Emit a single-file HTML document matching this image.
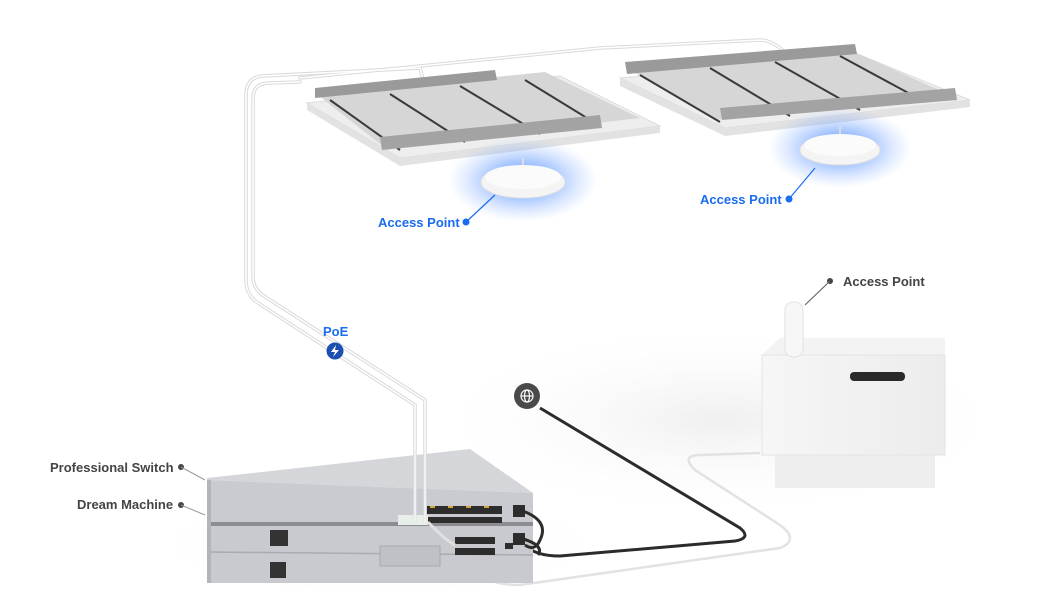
<!DOCTYPE html>
<html><head><meta charset="utf-8"><style>
html,body{margin:0;padding:0;background:#fff;width:1050px;height:609px;overflow:hidden}
svg{display:block}
text{font-family:"Liberation Sans",sans-serif;font-weight:bold;font-size:13px}
</style></head><body>
<svg width="1050" height="609" viewBox="0 0 1050 609">
<defs>
<radialGradient id="glow" cx="50%" cy="50%" r="50%">
<stop offset="0" stop-color="#3a7bff" stop-opacity="0.9"/>
<stop offset="0.5" stop-color="#5b95ff" stop-opacity="0.45"/>
<stop offset="1" stop-color="#8fb6ff" stop-opacity="0"/>
</radialGradient>
<radialGradient id="shadow" cx="50%" cy="50%" r="50%">
<stop offset="0" stop-color="#efefef"/>
<stop offset="1" stop-color="#fff" stop-opacity="0"/>
</radialGradient>
<linearGradient id="box" x1="0" x2="1"><stop offset="0" stop-color="#f6f6f6"/><stop offset="1" stop-color="#ececec"/></linearGradient>
</defs>
<ellipse cx="720" cy="420" rx="300" ry="100" fill="url(#shadow)"/>
<ellipse cx="380" cy="545" rx="240" ry="55" fill="url(#shadow)"/>

<!-- top white cables -->
<g id="wc" fill="none" stroke-linecap="round">
<path d="M415,520 L415,405 L258,303 Q246,295 246,280 L246,95 Q246,78 262,76 L420,68 L426,90"/>
<path d="M425,520 L425,400 L264,296 Q253,289 253,276 L253,98 Q253,84 268,83 L300,82"/>
<path d="M300,78 L600,48 L760,40 Q775,40 790,58 L830,100"/>
</g>
<use href="#wc" stroke="#d9d9d9" stroke-width="3.5"/>
<use href="#wc" stroke="#fff" stroke-width="1.5"/>

<!-- panel 1 -->
<polygon points="307,103 560,76 660,126 400,158" fill="#eeeeee" stroke="#dcdcdc"/>
<polygon points="307,103 307,110 400,166 660,133 660,126 400,158" fill="#e2e2e2"/>
<polygon points="318,95 545,72 640,118 385,148" fill="#d6d6d6"/>
<g stroke="#3a3a3a" stroke-width="2">
<line x1="330" y1="100" x2="400" y2="150"/><line x1="390" y1="94" x2="465" y2="142"/>
<line x1="460" y1="86" x2="540" y2="134"/><line x1="525" y1="80" x2="600" y2="126"/>
</g>
<polygon points="315,88 495,70 497,80 315,98" fill="#9a9a9a"/>
<polygon points="380,137 600,115 602,128 382,150" fill="#a3a3a3"/>
<!-- panel 2 -->
<polygon points="620,78 860,55 970,100 725,128" fill="#eeeeee" stroke="#dcdcdc"/>
<polygon points="620,78 620,86 725,136 970,107 970,100 725,128" fill="#e2e2e2"/>
<polygon points="630,70 850,50 950,95 715,120" fill="#d6d6d6"/>
<g stroke="#3a3a3a" stroke-width="2">
<line x1="640" y1="75" x2="720" y2="122"/><line x1="710" y1="68" x2="790" y2="116"/>
<line x1="775" y1="62" x2="860" y2="110"/><line x1="840" y1="56" x2="925" y2="102"/>
</g>
<polygon points="625,62 855,44 857,54 627,74" fill="#9a9a9a"/>
<polygon points="720,108 955,88 957,100 722,120" fill="#a3a3a3"/>

<!-- APs -->
<ellipse cx="523" cy="180" rx="75" ry="42" fill="url(#glow)"/>
<line x1="523" y1="158" x2="523" y2="168" stroke="#ddd" stroke-width="2"/>
<ellipse cx="523" cy="182" rx="42" ry="16" fill="#f4f4f4" stroke="#e0e0e0"/>
<ellipse cx="523" cy="177" rx="38" ry="12" fill="#fbfbfb"/>
<ellipse cx="840" cy="148" rx="72" ry="40" fill="url(#glow)"/>
<line x1="840" y1="126" x2="840" y2="136" stroke="#ddd" stroke-width="2"/>
<ellipse cx="840" cy="150" rx="40" ry="15" fill="#f4f4f4" stroke="#e0e0e0"/>
<ellipse cx="840" cy="145" rx="36" ry="11" fill="#fbfbfb"/>

<!-- labels -->
<g fill="#1a6cf0">
<text x="378" y="227">Access Point</text><circle cx="466" cy="222" r="3.5"/>
<text x="700" y="204">Access Point</text><circle cx="789" cy="199" r="3.5"/>
<text x="323" y="336" font-weight="normal">PoE</text>
</g>
<line x1="466" y1="222" x2="495" y2="195" stroke="#1a6cf0" stroke-width="1.2"/>
<line x1="789" y1="199" x2="815" y2="168" stroke="#1a6cf0" stroke-width="1.2"/>
<circle cx="335" cy="351" r="8.5" fill="#1b4fb0"/>
<path d="M336,345 L331,352 L335,352 L333,357 L339,350 L335,350 Z" fill="#fff"/>

<g fill="#444">
<text x="843" y="286">Access Point</text><circle cx="830" cy="281" r="3"/>
<text x="50" y="472">Professional Switch</text><circle cx="181" cy="467" r="3"/>
<text x="77" y="509">Dream Machine</text><circle cx="181" cy="505" r="3"/>
</g>
<line x1="830" y1="281" x2="805" y2="305" stroke="#666" stroke-width="1.2"/>
<line x1="181" y1="467" x2="205" y2="480" stroke="#999" stroke-width="1"/>
<line x1="181" y1="505" x2="205" y2="515" stroke="#999" stroke-width="1"/>

<!-- outdoor box -->
<rect x="775" y="450" width="160" height="38" fill="#eeeeee"/>
<polygon points="762,355 780,338 945,338 945,355" fill="#f3f3f3"/>
<rect x="762" y="355" width="183" height="100" fill="url(#box)" stroke="#e4e4e4"/>
<rect x="850" y="372" width="55" height="9" rx="4" fill="#2a2a2a"/>
<rect x="785" y="302" width="18" height="55" rx="8" fill="#f7f7f7" stroke="#e2e2e2"/>

<!-- lower cables -->
<path d="M455,545 Q470,585 520,585 L780,548 Q800,540 780,525 L695,470 Q680,455 700,455 L760,453" fill="none" stroke="#e2e2e2" stroke-width="2.5"/>
<path d="M540,408 L740,528 Q752,538 735,541 L560,556 Q535,556 525,545" fill="none" stroke="#2b2b2b" stroke-width="3"/>
<circle cx="527" cy="396" r="13" fill="#4a4a4a"/>
<g fill="none" stroke="#fff" stroke-width="1.2"><circle cx="527" cy="396" r="6"/><ellipse cx="527" cy="396" rx="2.5" ry="6"/><line x1="521" y1="396" x2="533" y2="396"/></g>

<!-- switch stack -->
<polygon points="207,478 470,449 533,493 207,480" fill="#d4d6da"/>
<polygon points="207,480 533,493 533,523 207,523" fill="#c9cbd0"/>
<rect x="207" y="522" width="326" height="4" fill="#8b8d92"/>
<rect x="207" y="526" width="326" height="57" fill="#c8cacf"/>
<line x1="207" y1="552" x2="533" y2="555" stroke="#a9abb0" stroke-width="1.5"/>
<rect x="207" y="480" width="4" height="103" fill="#b2b4b9"/>
<rect x="270" y="530" width="18" height="16" fill="#333"/>
<rect x="270" y="562" width="16" height="16" fill="#333"/>
<rect x="380" y="546" width="60" height="20" fill="#bfc1c6" stroke="#a7a9ae"/>
<g fill="#2d2d2d">
<rect x="427" y="506" width="75" height="8"/><rect x="427" y="517" width="75" height="6"/>
<rect x="455" y="537" width="40" height="7"/><rect x="455" y="548" width="40" height="7"/>
<rect x="505" y="543" width="8" height="6"/>
<rect x="513" y="505" width="12" height="12"/><rect x="513" y="533" width="12" height="12"/>
</g>
<g fill="#d4a63a"><rect x="430" y="506" width="5" height="2"/><rect x="448" y="506" width="5" height="2"/><rect x="466" y="506" width="5" height="2"/><rect x="484" y="506" width="5" height="2"/></g>
<rect x="398" y="515" width="30" height="10" fill="#e8efe8"/>
<!-- cables over switch -->
<g fill="none" stroke="#2b2b2b" stroke-width="3">
<path d="M520,510 Q550,520 540,540 Q535,552 525,545"/>
<path d="M520,538 Q545,545 538,555"/>
</g>
<g fill="none" stroke="#e0e0e0" stroke-width="3">
<path d="M415,450 L415,522"/><path d="M425,450 L425,522"/>
<path d="M428,522 Q445,540 455,545"/>
</g>
<g fill="none" stroke="#fff" stroke-width="1"><path d="M415,450 L415,522"/><path d="M425,450 L425,522"/></g>
</svg>
</body></html>
